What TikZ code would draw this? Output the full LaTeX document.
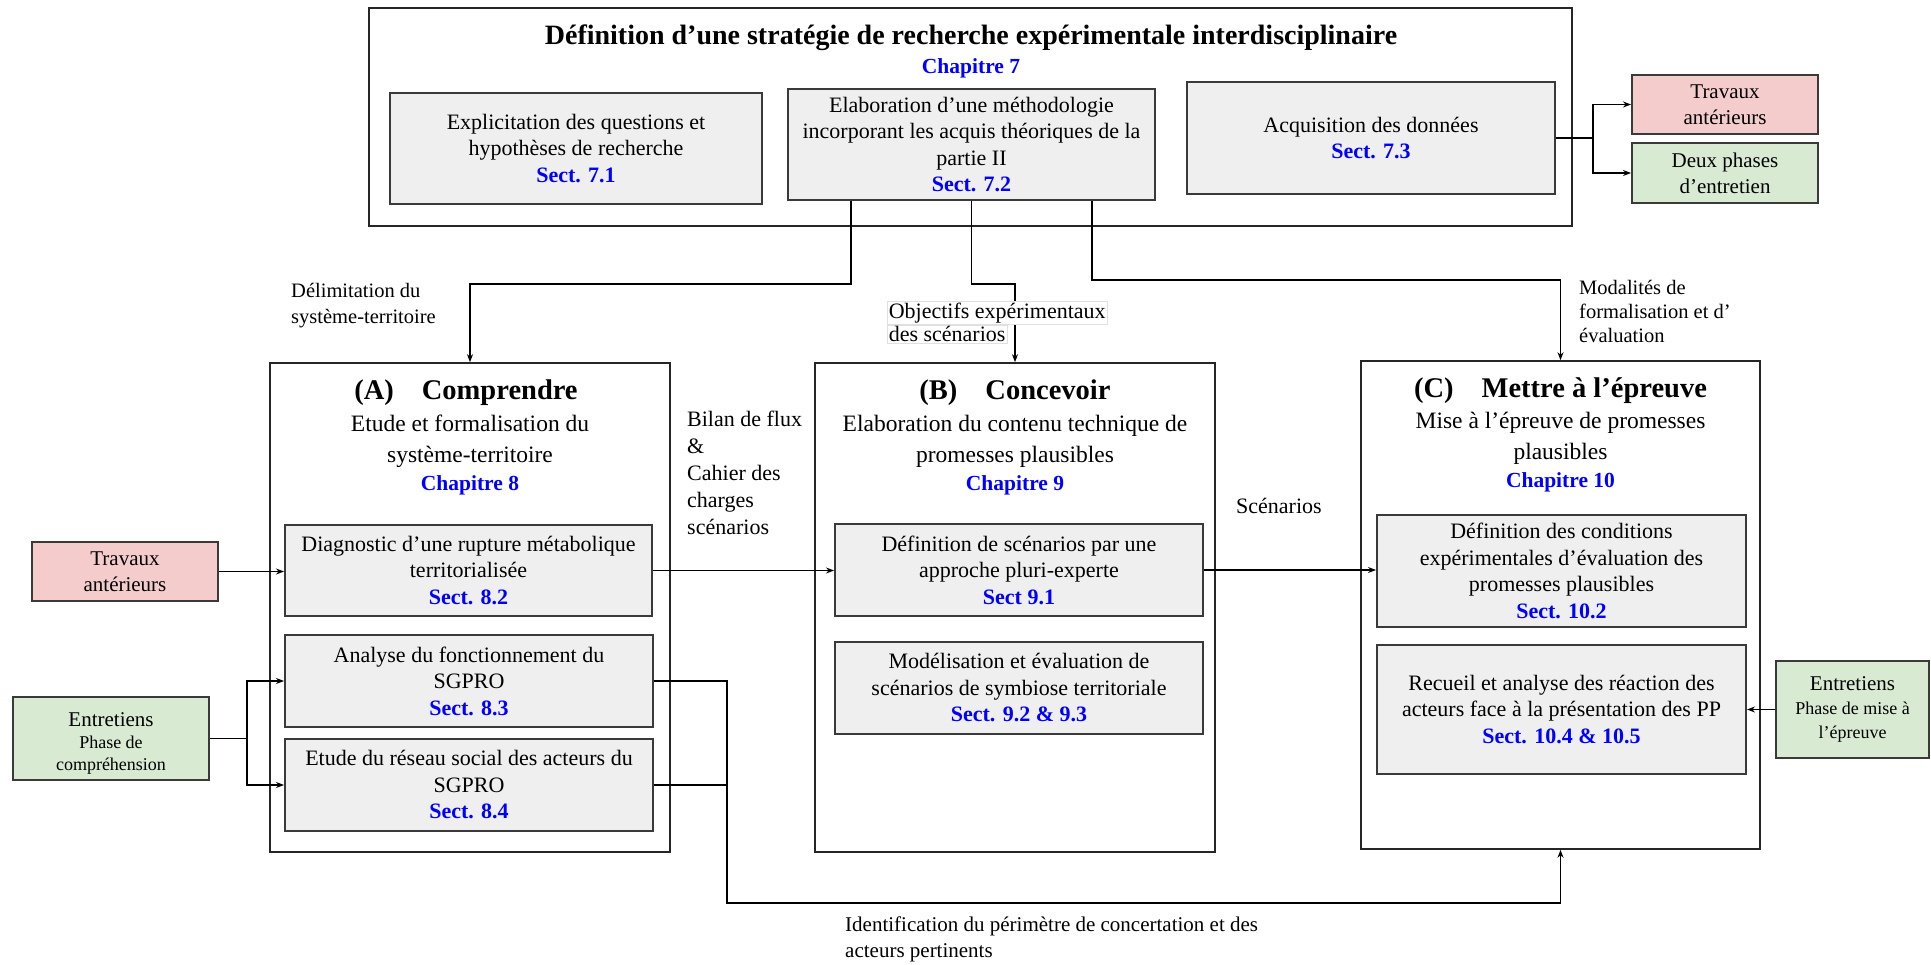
\documentclass[tikz,border=0pt]{standalone}
\usepackage{fontspec}
\setmainfont{Liberation Serif}
\usetikzlibrary{arrows.meta}
\definecolor{grayfill}{HTML}{EFEFEF}
\definecolor{redfill}{HTML}{F4CCCC}
\definecolor{greenfill}{HTML}{D9EAD3}
\definecolor{secblue}{HTML}{0000FF}
\definecolor{edgegray}{HTML}{3A3A3A}
\newcommand{\sct}[1]{{\color{secblue}\bfseries #1}}
\newcommand{\smtxt}[1]{{\fontsize{18}{22}\selectfont #1}}
\begin{document}
\begin{tikzpicture}[x=1pt,y=-1pt,
  outerbox/.style={draw=black!85, line width=1.6pt, inner sep=0pt},
  subbox/.style={draw=edgegray, line width=2pt, fill=grayfill, align=center, inner sep=0pt, font=\fontsize{22}{26.5}\selectfont},
  redbox/.style={draw=edgegray, line width=2pt, fill=redfill, align=center, inner sep=0pt, font=\fontsize{21}{26}\selectfont},
  greenbox/.style={draw=edgegray, line width=2pt, fill=greenfill, align=center, inner sep=0pt, font=\fontsize{21}{26}\selectfont},
  lbl/.style={align=left, inner sep=0pt, font=\fontsize{20.5}{26}\selectfont},
  conn/.style={line width=1.2pt, -{Stealth[length=8pt,width=6pt]}},
  plain/.style={line width=1.2pt},
  ttl/.style={align=center, inner sep=0pt, font=\fontsize{28.5}{32}\selectfont\bfseries},
  subttl/.style={align=center, inner sep=0pt, font=\fontsize{23.5}{31}\selectfont},
  chap/.style={align=center, inner sep=0pt, font=\fontsize{21.5}{24}\selectfont\bfseries, text=secblue}
]
\path[use as bounding box, fill=white] (0,0) rectangle (1931,965);

% ---------- top block ----------
\node[outerbox, minimum width=1203pt, minimum height=218pt] (top) at (970.5,117) {};
\node[ttl, font=\fontsize{28}{32}\selectfont\bfseries] (toptitle) at (971,38) {Définition d’une stratégie de recherche expérimentale interdisciplinaire};
\node[chap] (ch7) at (971,68) {Chapitre 7};

\node[subbox, minimum width=372pt, minimum height=111pt] (b71) at (576,148.5)
  {Explicitation des questions et\\hypothèses de recherche\\\sct{Sect. 7.1}};
\node[subbox, minimum width=367pt, minimum height=111pt] (b72) at (971.5,144.5)
  {Elaboration d’une méthodologie\\incorporant les acquis théoriques de la\\partie II\\\sct{Sect. 7.2}};
\node[subbox, minimum width=368pt, minimum height=112pt] (b73) at (1371,138)
  {Acquisition des données\\\sct{Sect. 7.3}};

\node[redbox, minimum width=186pt, minimum height=59pt] (trtop) at (1725,104.5) {Travaux\\antérieurs};
\node[greenbox, minimum width=186pt, minimum height=60pt] (deux) at (1725,173) {Deux phases\\d’entretien};

% ---------- A ----------
\node[outerbox, minimum width=400pt, minimum height=489pt] (A) at (470,607.5) {};
\node[ttl] (Atitle) at (466,393) {(A)\hspace{28pt}Comprendre};
\node[subttl] (Asub) at (470,441) {Etude et formalisation du\\système-territoire};
\node[chap] (ch8) at (470,485) {Chapitre 8};
\node[subbox, minimum width=367pt, minimum height=91pt] (s82) at (468.5,570.5)
  {Diagnostic d’une rupture métabolique\\territorialisée\\\sct{Sect. 8.2}};
\node[subbox, minimum width=368pt, minimum height=92pt] (s83) at (469,681)
  {Analyse du fonctionnement du\\SGPRO\\\sct{Sect. 8.3}};
\node[subbox, minimum width=368pt, minimum height=92pt] (s84) at (469,785)
  {Etude du réseau social des acteurs du\\SGPRO\\\sct{Sect. 8.4}};

% ---------- B ----------
\node[outerbox, minimum width=400pt, minimum height=489pt] (B) at (1015,607.5) {};
\node[ttl] (Btitle) at (1015,393) {(B)\hspace{28pt}Concevoir};
\node[subttl] (Bsub) at (1015,441) {Elaboration du contenu technique de\\promesses plausibles};
\node[chap] (ch9) at (1015,485) {Chapitre 9};
\node[subbox, minimum width=368pt, minimum height=92pt] (s91) at (1019,570)
  {Définition de scénarios par une\\approche pluri-experte\\\sct{Sect 9.1}};
\node[subbox, minimum width=368pt, minimum height=92pt] (s92) at (1019,688)
  {Modélisation et évaluation de\\scénarios de symbiose territoriale\\\sct{Sect. 9.2 \& 9.3}};

% ---------- C ----------
\node[outerbox, minimum width=399pt, minimum height=488pt] (C) at (1560.5,605) {};
\node[ttl] (Ctitle) at (1560.5,391) {(C)\hspace{28pt}Mettre à l’épreuve};
\node[subttl] (Csub) at (1560.5,438) {Mise à l’épreuve de promesses\\plausibles};
\node[chap] (ch10) at (1560.5,482) {Chapitre 10};
\node[subbox, minimum width=369pt, minimum height=112pt] (s102) at (1561.5,571)
  {Définition des conditions\\expérimentales d’évaluation des\\promesses plausibles\\\sct{Sect. 10.2}};
\node[subbox, minimum width=369pt, minimum height=129pt] (s104) at (1561.5,709.5)
  {Recueil et analyse des réaction des\\acteurs face à la présentation des PP\\\sct{Sect. 10.4 \& 10.5}};

% ---------- side boxes ----------
\node[redbox, minimum width=186pt, minimum height=59pt] (trleft) at (125,571.5) {Travaux\\antérieurs};
\node[greenbox, minimum width=196pt, minimum height=83pt] (entl) at (111,738.5)
  {\rule{0pt}{24pt}Entretiens\\[-4pt]\smtxt{Phase de}\\[-4pt]\smtxt{compréhension}};
\node[greenbox, minimum width=153pt, minimum height=97pt] (entr) at (1852.5,709.5)
  {Entretiens\\[-2pt]\smtxt{Phase de mise à}\\[-2pt]\smtxt{l’épreuve}};

% ---------- connectors ----------
\coordinate (j1) at (1593,138);
\draw[plain] (b73.east) -- (j1);
\draw[conn] (j1) |- (trtop.west);
\draw[conn] (j1) |- (deux.west);

\draw[conn] ([xshift=64pt]b72.south west) -- ++(0,83) -| (A.north);
\draw[conn] (b72.south) -- ++(0,83) -| (B.north);
\draw[conn] ([xshift=305pt]b72.south west) -- ++(0,79) -| (C.north);

\draw[conn] (trleft.east) -- (trleft.east -| s82.west);
\coordinate (j2) at (247,738.5);
\draw[plain] (entl.east) -- (j2);
\draw[conn] (j2) |- (s83.west);
\draw[conn] (j2) |- (s84.west);

\draw[conn] (s82.east) -- (s82.east -| s91.west);
\draw[conn] (s91.east) -- (s91.east -| s102.west);
\draw[conn] (entr.west) -- (entr.west -| s104.east);

\coordinate (k) at (727,903);
\draw[plain] (s84.east) -- (s84.east -| k);
\draw[conn] (s83.east) -| (k) -| (C.south);

% ---------- labels ----------
\node[lbl, anchor=west] (l1) at (291,306) {Délimitation du\\système-territoire};
\node[lbl, anchor=west, font=\fontsize{22}{26}\selectfont, fill=white, draw=black!12, line width=0.6pt, inner sep=1.5pt] (l2a) at (887,313) {Objectifs expérimentaux};
\node[lbl, anchor=north west, font=\fontsize{22}{26}\selectfont, fill=white, draw=black!12, line width=0.6pt, inner sep=1.5pt] (l2b) at (l2a.south west) {des scénarios};
\node[lbl, anchor=west, font=\fontsize{20.5}{24}\selectfont] (l3) at (1579,311) {Modalités de\\formalisation et d’\\évaluation};
\node[lbl, anchor=west, font=\fontsize{22}{27}\selectfont] (l4) at (687,473) {Bilan de flux\\\&\\Cahier des\\charges\\scénarios};
\node[lbl, anchor=west, font=\fontsize{22}{26}\selectfont] (l5) at (1236,506) {Scénarios};
\node[lbl, anchor=west, font=\fontsize{21}{26}\selectfont] (l6) at (845,939) {Identification du périmètre de concertation et des\\acteurs pertinents};
\end{tikzpicture}
\end{document}
